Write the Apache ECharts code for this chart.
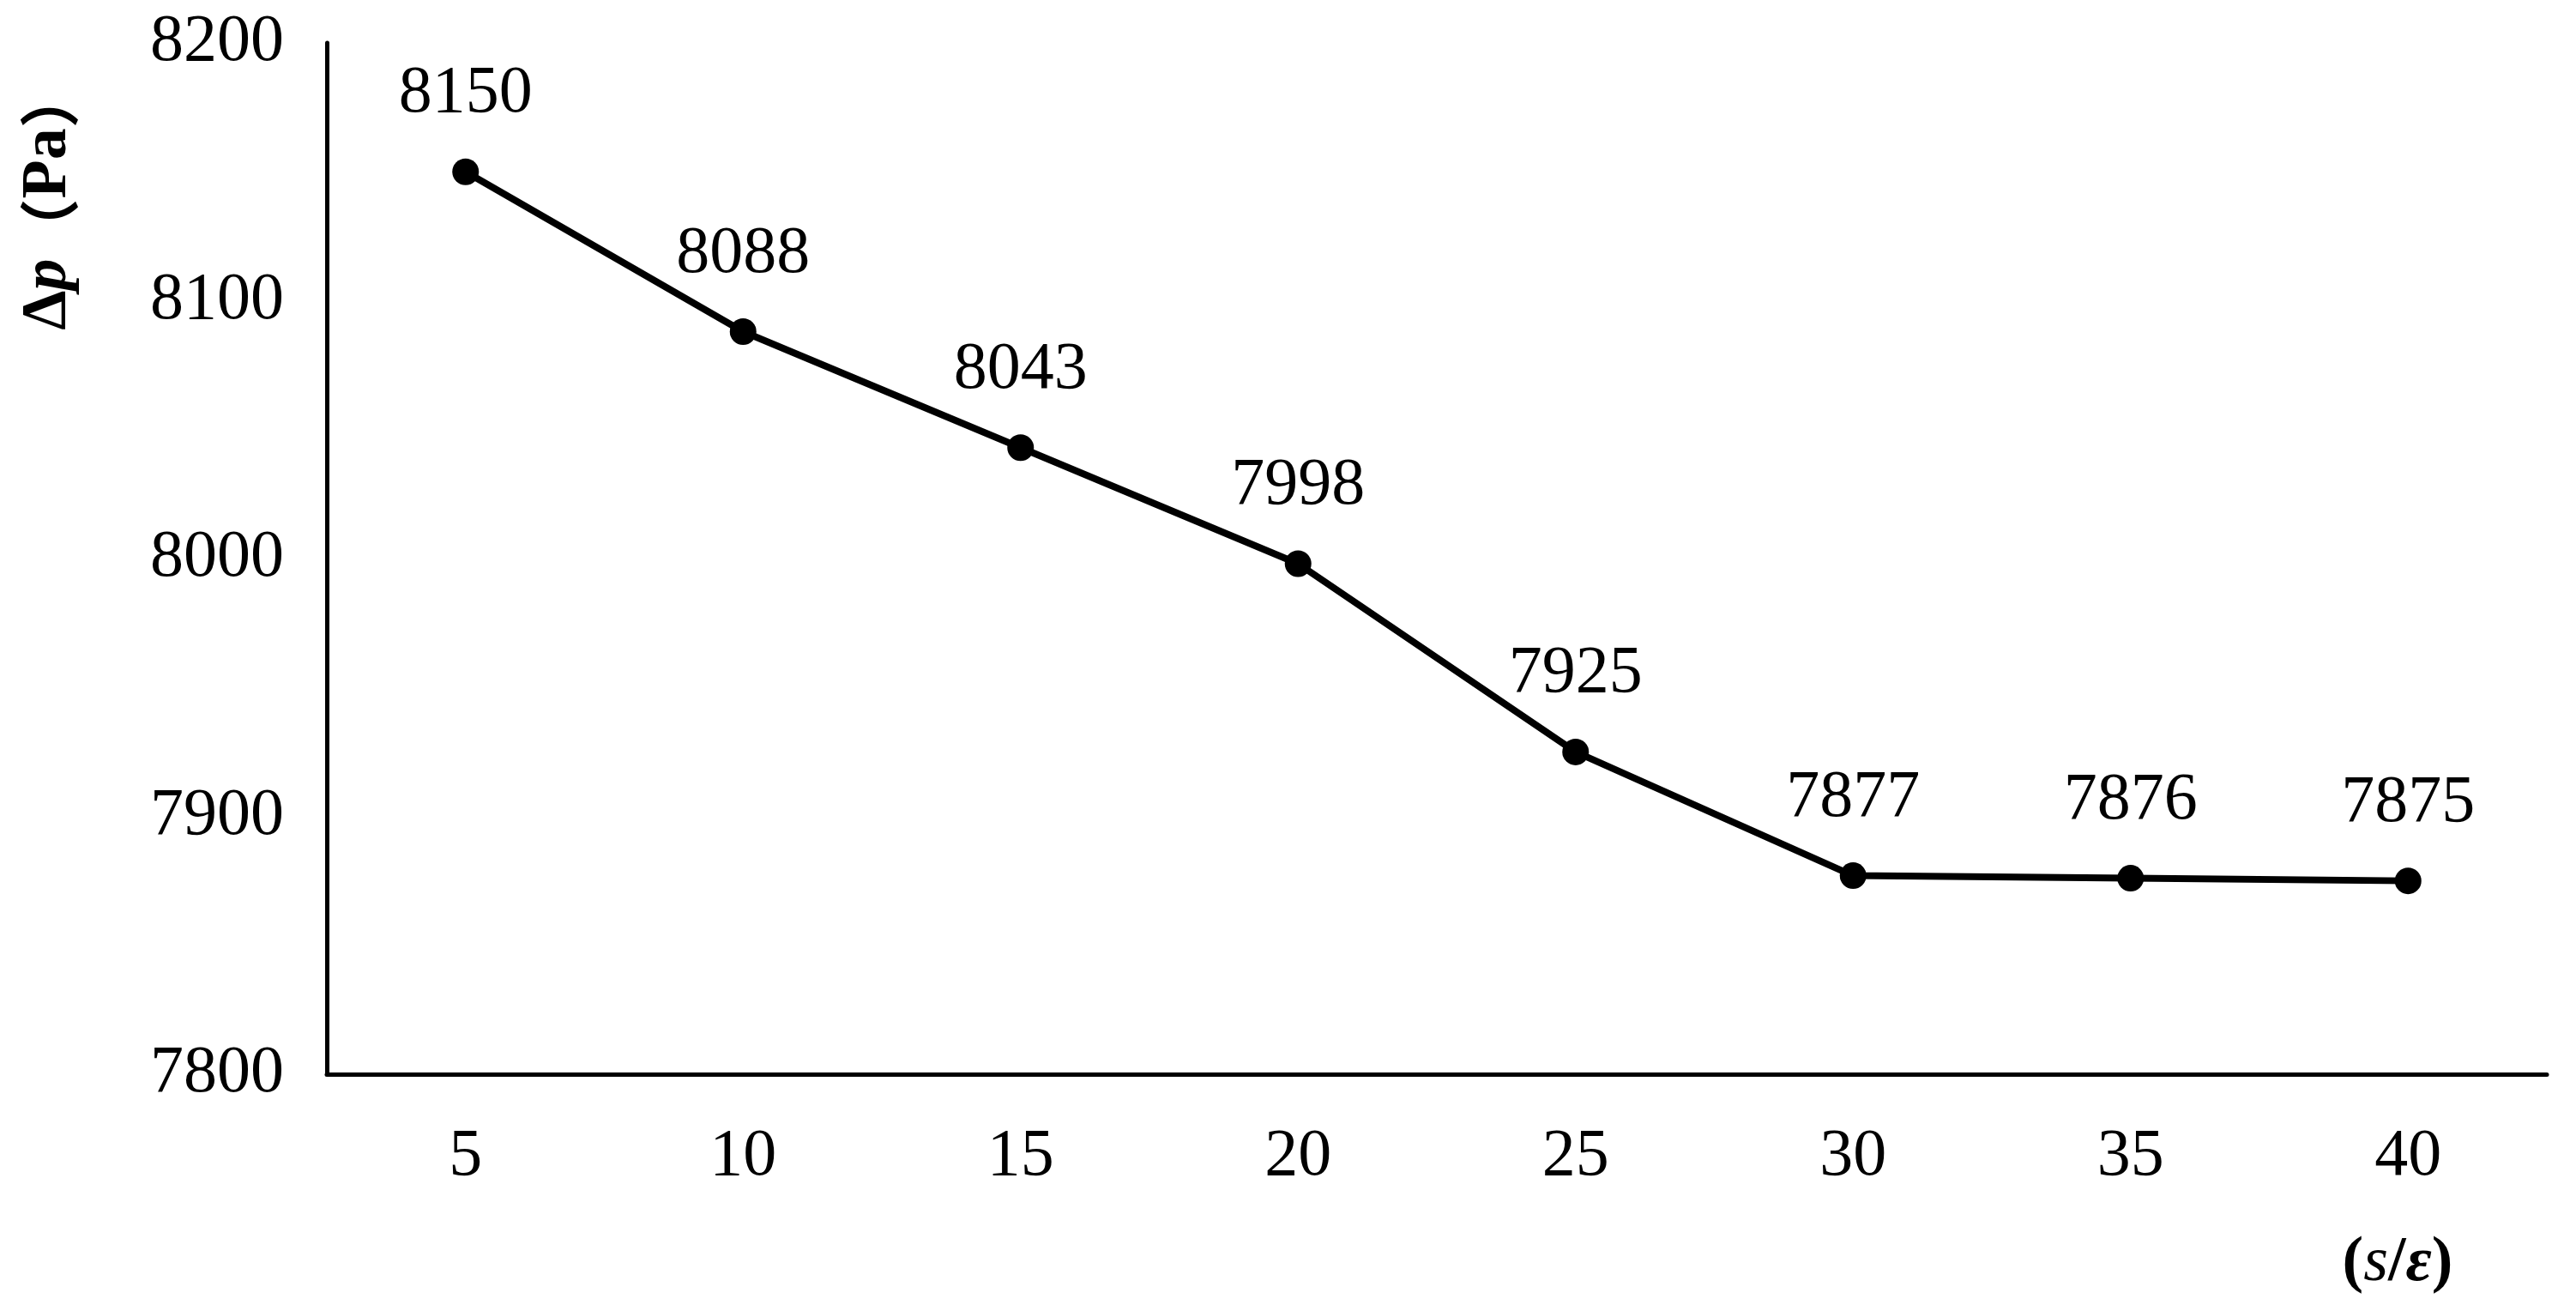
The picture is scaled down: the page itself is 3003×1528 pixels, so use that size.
<!DOCTYPE html>
<html>
<head>
<meta charset="utf-8">
<script src="https://cdn.jsdelivr.net/npm/echarts@6/dist/echarts.min.js"></script>
<style>
html,body{margin:0;padding:0;background:#fff;}
#c{width:3003px;height:1528px;}
</style>
</head>
<body>
<div id="c"></div>
<script>
const categories = ['5','10','15','20','25','30','35','40'];
const pressureDrop = [8150, 8088, 8043, 7998, 7925, 7877, 7876, 7875];
const yTicks = [7800, 7900, 8000, 8100, 8200];

const serif = '"Liberation Serif", "Times New Roman", serif';
const chart = echarts.init(document.getElementById('c'));
chart.setOption({
  backgroundColor: '#ffffff',
  animation: false,
  grid: {left: 381, right: 34, top: 50, bottom: 276},
  xAxis: {
    type: 'category',
    data: categories,
    boundaryGap: true,
    axisLine: {show: true, lineStyle: {color: '#000', width: 5}},
    axisTick: {show: false},
    axisLabel: {color: '#000', fontFamily: serif, fontSize: 78, margin: 58}
  },
  yAxis: {
    type: 'value',
    min: yTicks[0],
    max: yTicks[yTicks.length - 1],
    interval: 100,
    axisLine: {show: true, lineStyle: {color: '#000', width: 5}},
    axisTick: {show: false},
    splitLine: {show: false},
    axisLabel: {color: '#000', fontFamily: serif, fontSize: 78, margin: 50,
      formatter: function (v) { return String(v); }}
  },
  graphic: [
    {
      type: 'text',
      x: 57, y: 232,
      rotation: Math.PI / 2,
      style: {
        text: '{d|Δ}{p|p}{n|（}{d|Pa}{n|）}',
        align: 'center',
        verticalAlign: 'middle',
        rich: {
          d: {fontFamily: serif, fontWeight: 'bold', fontSize: 74, fill: '#000'},
          p: {fontFamily: serif, fontWeight: 'bold', fontStyle: 'italic', fontSize: 74, fill: '#000'},
          n: {fontFamily: '"Noto Sans CJK SC", ' + serif, fontWeight: 'bold', fontSize: 70, fill: '#000'}
        }
      }
    },
    {
      type: 'text',
      x: 2795, y: 1473,
      style: {
        text: '{b|(}{s|s}{b|/}{e|ε}{b|)}',
        align: 'center',
        verticalAlign: 'middle',
        rich: {
          b: {fontFamily: serif, fontWeight: 'bold', fontSize: 74, fill: '#000'},
          s: {fontFamily: serif, fontStyle: 'italic', fontSize: 74, fill: '#000'},
          e: {fontFamily: serif, fontWeight: 'bold', fontStyle: 'italic', fontSize: 74, fill: '#000'}
        }
      }
    }
  ],
  series: [{
    type: 'line',
    data: pressureDrop,
    symbol: 'circle',
    symbolSize: 31,
    lineStyle: {color: '#000', width: 8},
    itemStyle: {color: '#000'},
    label: {
      show: true,
      position: 'top',
      distance: 36,
      color: '#000',
      fontFamily: serif,
      fontSize: 78
    }
  }]
});
</script>
</body>
</html>
